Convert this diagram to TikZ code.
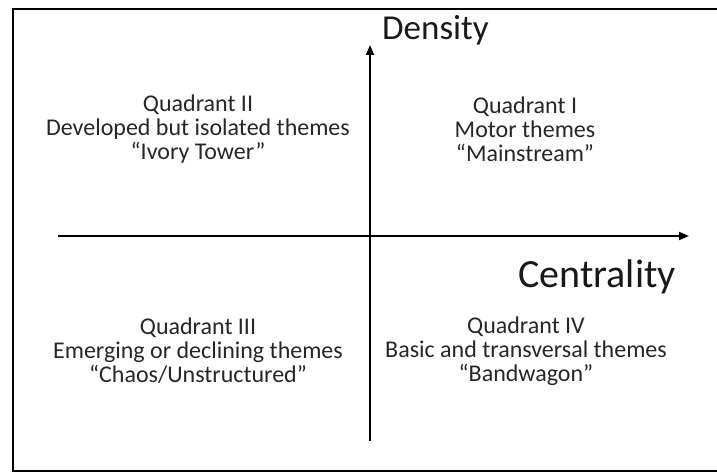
\documentclass[tikz,border=0pt]{standalone}
\usepackage{fontspec}
\setmainfont{Carlito}
\usetikzlibrary{arrows.meta}
\tikzset{quad/.style={align=center,font=\fontsize{24}{24}\selectfont,text=black!85}}
\tikzset{axis/.style={line width=1.8pt,-{Triangle[length=10pt,width=8pt]}}}
\tikzset{axlabel/.style={font=\fontsize{#1}{40}\selectfont,text=black!90}}

\begin{document}
\begin{tikzpicture}[x=1pt,y=-1pt]
      \useasboundingbox (0,0) rectangle (717,473);
      \draw[line width=2.6pt] (730,9) -- (13,9) -- (13,471) -- (730,471);

      \coordinate (xs) at (58,236);
      \coordinate (xe) at (689,236);
      \coordinate (ys) at (370,441);
      \coordinate (ye) at (370,45);
      \draw[axis] (xs) -- (xe);
      \draw[axis] (ys) -- (ye);

      \node[axlabel=35,anchor=base west,inner sep=0pt] at (382,40) (dens) {Density};
      \node[axlabel=40,anchor=base east,inner sep=0pt] at (676,287) (cent) {Centrality};

      \node[quad] at (198,129) (q2) {Quadrant II\\Developed but isolated themes\\“Ivory Tower”};
      \node[quad] at (525,129) (q1) {Quadrant I\\Motor themes\\“Mainstream”};
      \node[quad] at (198,351) (q3) {Quadrant III\\Emerging or declining themes\\“Chaos/Unstructured”};
      \node[quad] at (526,351) (q4) {Quadrant IV\\Basic and transversal themes\\“Bandwagon”};
\end{tikzpicture}
\end{document}
